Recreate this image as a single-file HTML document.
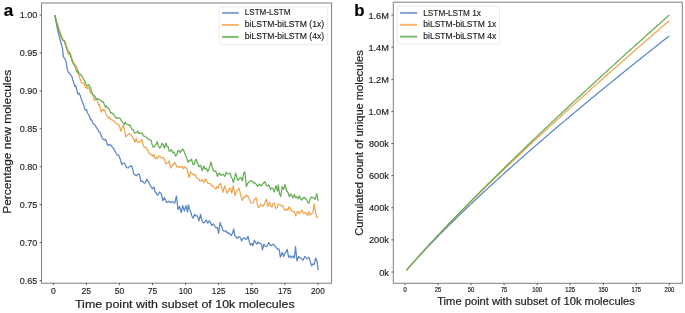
<!DOCTYPE html>
<html><head><meta charset="utf-8"><style>
html,body{margin:0;padding:0;background:#fff;width:685px;height:313px;overflow:hidden;}
svg{display:block;font-family:"Liberation Sans", sans-serif;filter:blur(0.55px);}
</style></head><body>
<svg width="685" height="313" viewBox="0 0 685 313" font-family="Liberation Sans, sans-serif">
<rect width="685" height="313" fill="#fff"/>
<g fill="none" stroke-width="1.25" stroke-linejoin="round">
<path d="M54.70,15.10 L57.20,28.00 L59.90,39.20 L61.30,44.00 L62.60,48.80 L63.30,56.80 L64.80,58.40 L66.10,62.00 L67.20,68.92 L68.30,72.60 L69.17,72.82 L70.03,73.74 L70.90,75.10 L71.85,76.48 L72.80,80.00 L73.80,82.70 L74.87,86.33 L75.93,85.93 L77.00,91.00 L78.07,94.21 L79.13,93.17 L80.20,95.40 L81.50,99.57 L82.80,103.10 L83.73,105.18 L84.67,109.23 L85.60,110.10 L86.57,109.64 L87.55,112.98 L88.53,114.52 L89.50,116.50 L90.57,119.77 L91.63,119.67 L92.70,122.90 L93.97,124.33 L95.25,125.22 L96.53,127.74 L97.80,129.30 L98.87,131.78 L99.93,132.00 L101.00,135.00 L102.07,137.84 L103.13,139.30 L104.20,140.10 L105.60,139.30 L106.47,141.90 L107.33,144.40 L108.20,145.60 L109.40,144.52 L110.60,144.80 L111.80,146.28 L113.00,148.00 L114.07,148.90 L115.13,151.40 L116.20,153.50 L117.27,155.10 L118.33,154.94 L119.40,156.70 L120.60,160.30 L121.80,164.70 L123.00,163.21 L124.20,163.10 L125.35,164.45 L126.50,167.50 L128.20,168.00 L129.27,166.53 L130.33,166.39 L131.40,165.60 L132.60,168.83 L133.80,174.30 L134.92,174.53 L136.04,175.96 L137.16,175.04 L138.28,174.11 L139.40,174.30 L141.00,181.50 L142.07,181.15 L143.13,181.82 L144.20,183.10 L145.40,182.79 L146.60,179.10 L147.73,181.05 L148.87,182.26 L150.00,184.80 L151.20,186.99 L152.40,188.80 L154.00,187.20 L155.07,191.97 L156.13,192.65 L157.20,195.20 L158.40,194.22 L159.60,192.00 L161.20,193.60 L162.80,200.80 L164.40,197.60 L165.60,200.30 L166.80,202.40 L167.80,202.05 L168.80,201.26 L169.80,202.05 L170.80,202.40 L172.40,201.60 L173.60,202.19 L174.80,203.20 L176.40,196.00 L178.00,209.60 L179.60,206.40 L181.20,212.70 L182.70,205.60 L184.30,211.20 L185.90,205.60 L187.50,212.00 L188.30,204.80 L189.50,208.99 L190.70,212.00 L191.90,215.99 L193.10,218.30 L194.70,214.30 L195.60,215.80 L196.50,215.72 L197.40,216.00 L199.00,220.80 L200.60,214.40 L202.20,221.60 L203.40,222.89 L204.60,222.40 L206.20,220.00 L207.80,223.20 L209.40,220.80 L210.60,222.45 L211.80,225.60 L213.40,224.00 L215.00,226.40 L216.20,228.05 L217.40,227.20 L218.60,233.50 L220.20,222.40 L221.13,225.58 L222.07,227.44 L223.00,230.40 L224.07,231.16 L225.13,230.86 L226.20,231.20 L227.35,233.08 L228.50,232.70 L230.10,234.30 L231.30,235.42 L232.50,233.50 L233.70,228.80 L234.70,234.94 L235.70,236.70 L237.30,238.30 L238.90,236.70 L239.80,236.74 L240.70,238.12 L241.60,241.00 L242.80,238.90 L244.00,237.80 L245.20,238.76 L246.40,239.40 L248.00,236.20 L249.20,241.48 L250.40,245.00 L252.00,243.40 L252.80,245.80 L254.40,240.20 L255.60,242.52 L256.80,244.20 L258.00,241.78 L259.20,243.40 L260.40,243.49 L261.60,244.20 L262.40,249.80 L264.00,244.20 L265.20,246.23 L266.40,246.60 L267.60,244.83 L268.80,242.60 L269.95,244.96 L271.10,245.80 L272.30,244.78 L273.50,244.20 L274.70,245.60 L275.90,247.40 L277.50,249.00 L279.10,249.00 L280.30,257.20 L281.25,254.94 L282.20,252.30 L283.60,256.60 L285.00,253.00 L286.10,251.61 L287.20,249.40 L288.60,257.30 L290.10,255.80 L291.50,258.00 L292.90,255.80 L294.40,258.00 L295.50,246.50 L297.00,260.90 L298.70,256.60 L299.75,257.50 L300.80,258.00 L301.90,259.22 L303.00,260.20 L304.70,256.60 L305.65,256.98 L306.60,258.70 L307.70,258.38 L308.80,257.30 L310.20,260.90 L311.60,265.90 L313.10,263.80 L314.20,264.50 L315.70,258.00 L317.10,261.60 L318.10,270.20" stroke="#5b86c6" />
<path d="M54.90,15.10 L59.20,29.60 L61.60,36.00 L63.20,40.00 L64.80,40.80 L66.40,45.60 L68.00,50.40 L69.20,51.58 L70.40,53.60 L72.00,58.40 L73.30,62.00 L74.40,63.74 L75.50,65.60 L76.80,66.96 L78.10,72.60 L78.90,75.00 L80.40,80.00 L81.60,82.99 L82.80,82.70 L84.05,83.46 L85.30,87.80 L86.28,87.11 L87.25,88.60 L88.22,87.00 L89.20,88.40 L90.40,92.90 L91.70,93.09 L93.00,95.40 L94.30,100.60 L95.55,99.04 L96.80,99.30 L97.67,101.55 L98.53,104.99 L99.40,104.40 L100.35,108.29 L101.30,112.10 L102.17,109.92 L103.03,110.51 L103.90,108.90 L105.00,111.15 L106.10,114.60 L107.22,115.71 L108.35,118.03 L109.47,117.23 L110.60,119.10 L111.88,120.06 L113.15,120.12 L114.42,121.79 L115.70,122.90 L116.97,124.22 L118.23,124.04 L119.50,126.10 L120.80,131.20 L122.05,127.96 L123.30,125.40 L124.55,130.86 L125.80,136.80 L127.00,135.56 L128.20,134.41 L129.40,133.58 L130.60,134.40 L131.67,135.85 L132.73,137.33 L133.80,139.20 L134.98,142.23 L136.15,138.37 L137.32,141.71 L138.50,142.40 L139.57,141.70 L140.63,141.63 L141.70,139.20 L143.30,145.60 L144.50,147.30 L145.70,147.16 L146.90,149.20 L148.10,150.40 L149.05,152.94 L150.00,154.40 L151.28,154.73 L152.56,156.45 L153.84,154.45 L155.12,158.69 L156.40,157.60 L157.47,158.53 L158.53,156.20 L159.60,156.00 L160.80,157.41 L162.00,157.65 L163.20,157.57 L164.40,159.20 L166.00,164.00 L167.07,163.02 L168.13,162.87 L169.20,160.80 L170.80,168.00 L171.80,166.22 L172.80,164.82 L173.80,163.73 L174.80,162.40 L175.87,164.43 L176.93,166.88 L178.00,167.20 L179.00,166.37 L180.00,167.31 L181.00,166.82 L182.00,166.40 L183.50,168.80 L184.57,166.67 L185.63,167.85 L186.70,168.00 L187.90,172.62 L189.10,177.50 L190.70,172.00 L191.77,172.99 L192.83,174.39 L193.90,175.10 L194.97,174.13 L196.03,177.28 L197.10,178.30 L198.00,178.59 L198.90,178.79 L199.80,181.20 L201.00,180.92 L202.20,179.60 L203.80,182.70 L205.40,178.80 L207.00,182.00 L208.20,183.49 L209.40,183.50 L210.47,183.65 L211.53,185.94 L212.60,185.90 L213.67,186.59 L214.73,188.10 L215.80,189.10 L216.87,186.67 L217.93,188.02 L219.00,185.10 L220.20,183.24 L221.40,186.70 L223.00,192.30 L224.60,185.90 L225.80,189.41 L227.00,193.10 L228.15,191.40 L229.30,188.30 L230.50,188.67 L231.70,193.10 L233.30,185.90 L234.90,195.50 L236.50,191.50 L237.70,189.71 L238.90,188.30 L240.07,192.29 L241.23,197.26 L242.40,200.50 L244.00,196.70 L245.20,197.15 L246.40,195.10 L247.47,196.30 L248.53,196.92 L249.60,199.90 L250.80,202.87 L252.00,203.10 L253.00,202.92 L254.00,199.84 L255.00,199.25 L256.00,197.50 L257.20,203.08 L258.40,207.90 L259.60,206.47 L260.80,203.90 L262.00,205.30 L263.20,206.30 L264.80,203.10 L266.40,199.10 L268.00,206.30 L269.60,202.30 L270.75,206.11 L271.90,207.10 L273.10,203.36 L274.30,203.10 L275.90,208.70 L277.10,207.34 L278.30,203.90 L279.33,204.95 L280.37,205.02 L281.40,205.90 L282.90,205.90 L284.30,209.50 L285.40,210.32 L286.50,208.80 L287.90,210.20 L289.00,206.81 L290.10,208.10 L291.15,210.66 L292.20,210.90 L293.30,211.69 L294.40,211.70 L295.80,216.00 L297.30,211.70 L298.35,211.62 L299.40,213.80 L300.50,212.43 L301.60,210.20 L302.65,211.70 L303.70,213.80 L305.20,212.40 L306.60,213.80 L307.70,215.34 L308.80,211.70 L309.85,214.94 L310.90,214.50 L312.00,213.54 L313.10,211.70 L314.20,203.80 L315.20,211.00 L316.70,217.40 L318.10,216.70" stroke="#eea54f" />
<path d="M54.70,15.10 L58.40,29.60 L60.80,36.00 L62.40,40.00 L64.00,40.80 L65.60,45.60 L67.20,50.40 L68.40,53.79 L69.60,53.60 L71.20,58.40 L72.50,62.00 L73.60,64.24 L74.70,65.60 L76.00,69.20 L77.30,72.60 L78.25,71.39 L79.20,73.90 L80.05,74.17 L80.90,75.00 L81.97,76.35 L83.03,78.32 L84.10,80.10 L85.35,82.37 L86.60,85.90 L87.47,85.62 L88.33,84.96 L89.20,85.20 L90.45,87.44 L91.70,92.30 L92.77,94.45 L93.83,95.71 L94.90,96.10 L96.20,99.06 L97.50,98.60 L98.60,99.45 L99.70,99.80 L100.80,100.45 L101.90,101.80 L103.20,101.85 L104.50,105.00 L105.47,107.05 L106.43,106.03 L107.40,108.20 L108.50,108.14 L109.60,110.24 L110.70,113.06 L111.80,112.70 L112.78,114.21 L113.75,114.23 L114.72,115.81 L115.70,117.80 L116.77,118.43 L117.83,117.64 L118.90,117.80 L119.97,118.30 L121.03,120.10 L122.10,121.60 L123.22,122.95 L124.35,124.78 L125.47,122.16 L126.60,124.00 L127.72,124.49 L128.84,125.44 L129.96,124.94 L131.08,127.56 L132.20,129.60 L133.27,129.64 L134.33,132.86 L135.40,132.80 L136.57,132.67 L137.75,131.18 L138.93,133.45 L140.10,132.80 L141.17,133.51 L142.23,133.19 L143.30,136.00 L144.50,136.20 L145.70,137.01 L146.90,137.53 L148.10,139.20 L149.05,139.63 L150.00,140.00 L151.07,140.15 L152.13,144.53 L153.20,147.20 L154.20,146.81 L155.20,145.25 L156.20,144.11 L157.20,141.60 L158.40,145.92 L159.60,148.00 L160.80,147.09 L162.00,143.20 L163.20,144.48 L164.40,148.00 L166.00,143.20 L167.07,146.71 L168.13,146.67 L169.20,151.20 L170.40,150.80 L171.60,149.69 L172.80,152.85 L174.00,152.00 L175.60,156.00 L176.80,154.53 L178.00,150.40 L179.03,150.47 L180.07,152.71 L181.10,151.20 L182.70,148.80 L183.77,150.53 L184.83,153.75 L185.90,156.00 L187.10,159.35 L188.30,162.40 L189.37,160.27 L190.43,160.70 L191.50,159.20 L192.70,163.94 L193.90,164.80 L195.10,160.98 L196.30,159.20 L197.20,162.63 L198.10,164.11 L199.00,166.80 L200.60,165.20 L202.20,170.80 L203.80,166.00 L205.00,168.97 L206.20,168.40 L207.80,171.60 L208.87,168.88 L209.93,165.88 L211.00,162.00 L212.20,167.04 L213.40,170.80 L214.60,171.05 L215.80,170.80 L217.40,176.40 L218.60,173.40 L219.80,173.20 L221.00,175.39 L222.20,174.80 L223.40,174.23 L224.60,176.40 L226.20,172.40 L227.35,173.44 L228.50,174.00 L230.10,173.20 L231.17,176.98 L232.23,178.70 L233.30,182.70 L234.50,178.10 L235.70,173.20 L236.90,177.97 L238.10,180.40 L239.15,178.93 L240.20,177.50 L241.30,178.26 L242.40,180.80 L243.60,173.48 L244.80,172.00 L246.40,186.40 L247.60,183.43 L248.80,182.40 L250.00,181.01 L251.20,180.80 L252.40,181.48 L253.60,183.20 L254.80,182.64 L256.00,184.00 L257.60,186.40 L259.20,184.00 L260.40,185.18 L261.60,185.60 L262.67,183.69 L263.73,182.82 L264.80,181.60 L266.40,185.60 L267.60,185.88 L268.80,184.80 L270.40,189.60 L271.55,187.94 L272.70,188.00 L274.30,192.00 L275.90,185.60 L277.50,191.20 L278.30,184.80 L279.60,194.00 L280.70,196.60 L282.20,186.50 L283.60,189.40 L285.00,184.30 L286.50,190.80 L287.90,192.30 L289.30,196.60 L290.80,193.70 L291.85,195.55 L292.90,198.00 L294.40,194.40 L295.45,197.66 L296.50,196.60 L298.00,198.70 L299.40,195.80 L300.50,198.87 L301.60,200.20 L302.53,197.94 L303.47,198.19 L304.40,197.30 L305.50,198.91 L306.60,199.40 L307.70,202.43 L308.80,203.00 L309.85,200.30 L310.90,197.30 L312.00,197.12 L313.10,198.00 L314.15,197.97 L315.20,199.40 L316.70,193.70 L318.10,200.90" stroke="#66ad55" />
</g>
<rect x="41.5" y="3.0" width="290.1" height="280.2" fill="none" stroke="#858585" stroke-width="1.05"/>
<line x1="39.6" y1="15.00" x2="41.5" y2="15.00" stroke="#5a5a5a" stroke-width="1"/>
<text x="37.40" y="18.45" font-size="9.1" text-anchor="end" textLength="17.60" lengthAdjust="spacingAndGlyphs" stroke="#1e1e1e" stroke-width="0.15" fill="#1e1e1e" >1.00</text>
<line x1="39.6" y1="52.93" x2="41.5" y2="52.93" stroke="#5a5a5a" stroke-width="1"/>
<text x="37.40" y="56.38" font-size="9.1" text-anchor="end" textLength="17.60" lengthAdjust="spacingAndGlyphs" stroke="#1e1e1e" stroke-width="0.15" fill="#1e1e1e" >0.95</text>
<line x1="39.6" y1="90.86" x2="41.5" y2="90.86" stroke="#5a5a5a" stroke-width="1"/>
<text x="37.40" y="94.31" font-size="9.1" text-anchor="end" textLength="17.60" lengthAdjust="spacingAndGlyphs" stroke="#1e1e1e" stroke-width="0.15" fill="#1e1e1e" >0.90</text>
<line x1="39.6" y1="128.79" x2="41.5" y2="128.79" stroke="#5a5a5a" stroke-width="1"/>
<text x="37.40" y="132.24" font-size="9.1" text-anchor="end" textLength="17.60" lengthAdjust="spacingAndGlyphs" stroke="#1e1e1e" stroke-width="0.15" fill="#1e1e1e" >0.85</text>
<line x1="39.6" y1="166.71" x2="41.5" y2="166.71" stroke="#5a5a5a" stroke-width="1"/>
<text x="37.40" y="170.16" font-size="9.1" text-anchor="end" textLength="17.60" lengthAdjust="spacingAndGlyphs" stroke="#1e1e1e" stroke-width="0.15" fill="#1e1e1e" >0.80</text>
<line x1="39.6" y1="204.64" x2="41.5" y2="204.64" stroke="#5a5a5a" stroke-width="1"/>
<text x="37.40" y="208.09" font-size="9.1" text-anchor="end" textLength="17.60" lengthAdjust="spacingAndGlyphs" stroke="#1e1e1e" stroke-width="0.15" fill="#1e1e1e" >0.75</text>
<line x1="39.6" y1="242.57" x2="41.5" y2="242.57" stroke="#5a5a5a" stroke-width="1"/>
<text x="37.40" y="246.02" font-size="9.1" text-anchor="end" textLength="17.60" lengthAdjust="spacingAndGlyphs" stroke="#1e1e1e" stroke-width="0.15" fill="#1e1e1e" >0.70</text>
<line x1="39.6" y1="280.50" x2="41.5" y2="280.50" stroke="#5a5a5a" stroke-width="1"/>
<text x="37.40" y="283.95" font-size="9.1" text-anchor="end" textLength="17.60" lengthAdjust="spacingAndGlyphs" stroke="#1e1e1e" stroke-width="0.15" fill="#1e1e1e" >0.65</text>
<line x1="53.30" y1="283.2" x2="53.30" y2="285.1" stroke="#5a5a5a" stroke-width="1"/>
<text x="53.30" y="294.00" font-size="8.8" text-anchor="middle" textLength="4.78" lengthAdjust="spacingAndGlyphs" stroke="#1e1e1e" stroke-width="0.15" fill="#1e1e1e" >0</text>
<line x1="86.38" y1="283.2" x2="86.38" y2="285.1" stroke="#5a5a5a" stroke-width="1"/>
<text x="86.38" y="294.00" font-size="8.8" text-anchor="middle" textLength="9.56" lengthAdjust="spacingAndGlyphs" stroke="#1e1e1e" stroke-width="0.15" fill="#1e1e1e" >25</text>
<line x1="119.45" y1="283.2" x2="119.45" y2="285.1" stroke="#5a5a5a" stroke-width="1"/>
<text x="119.45" y="294.00" font-size="8.8" text-anchor="middle" textLength="9.56" lengthAdjust="spacingAndGlyphs" stroke="#1e1e1e" stroke-width="0.15" fill="#1e1e1e" >50</text>
<line x1="152.52" y1="283.2" x2="152.52" y2="285.1" stroke="#5a5a5a" stroke-width="1"/>
<text x="152.52" y="294.00" font-size="8.8" text-anchor="middle" textLength="9.56" lengthAdjust="spacingAndGlyphs" stroke="#1e1e1e" stroke-width="0.15" fill="#1e1e1e" >75</text>
<line x1="185.60" y1="283.2" x2="185.60" y2="285.1" stroke="#5a5a5a" stroke-width="1"/>
<text x="185.60" y="294.00" font-size="8.8" text-anchor="middle" textLength="13.63" lengthAdjust="spacingAndGlyphs" stroke="#1e1e1e" stroke-width="0.15" fill="#1e1e1e" >100</text>
<line x1="218.67" y1="283.2" x2="218.67" y2="285.1" stroke="#5a5a5a" stroke-width="1"/>
<text x="218.67" y="294.00" font-size="8.8" text-anchor="middle" textLength="13.63" lengthAdjust="spacingAndGlyphs" stroke="#1e1e1e" stroke-width="0.15" fill="#1e1e1e" >125</text>
<line x1="251.75" y1="283.2" x2="251.75" y2="285.1" stroke="#5a5a5a" stroke-width="1"/>
<text x="251.75" y="294.00" font-size="8.8" text-anchor="middle" textLength="13.63" lengthAdjust="spacingAndGlyphs" stroke="#1e1e1e" stroke-width="0.15" fill="#1e1e1e" >150</text>
<line x1="284.82" y1="283.2" x2="284.82" y2="285.1" stroke="#5a5a5a" stroke-width="1"/>
<text x="284.82" y="294.00" font-size="8.8" text-anchor="middle" textLength="13.63" lengthAdjust="spacingAndGlyphs" stroke="#1e1e1e" stroke-width="0.15" fill="#1e1e1e" >175</text>
<line x1="317.90" y1="283.2" x2="317.90" y2="285.1" stroke="#5a5a5a" stroke-width="1"/>
<text x="317.90" y="294.00" font-size="8.8" text-anchor="middle" textLength="13.63" lengthAdjust="spacingAndGlyphs" stroke="#1e1e1e" stroke-width="0.15" fill="#1e1e1e" >200</text>
<text x="75.00" y="308.00" font-size="11.5" textLength="219.60" lengthAdjust="spacingAndGlyphs" stroke="#1e1e1e" stroke-width="0.2" fill="#1e1e1e" >Time point with subset of 10k molecules</text>
<text x="0.00" y="0.00" font-size="11.8" textLength="144.00" lengthAdjust="spacingAndGlyphs" stroke="#1e1e1e" stroke-width="0.2" fill="#1e1e1e" transform="translate(10.6,213.8) rotate(-90)">Percentage new molecules</text>
<text x="3.85" y="16.35" font-size="17" font-weight="bold" stroke="#000" stroke-width="0.2" fill="#000" >a</text>
<rect x="219.1" y="6.8" width="108.3" height="37.8" rx="1.5" fill="#fff" stroke="#e6e6e6" stroke-width="0.8"/>
<line x1="221.9" y1="12.90" x2="238.7" y2="12.90" stroke="#7d9fd8" stroke-width="1.9"/>
<text x="244.80" y="15.45" font-size="8.55" textLength="45.70" lengthAdjust="spacingAndGlyphs" stroke="#1e1e1e" stroke-width="0.15" fill="#1e1e1e" >LSTM-LSTM</text>
<line x1="221.9" y1="24.90" x2="238.7" y2="24.90" stroke="#f5b468" stroke-width="1.9"/>
<text x="244.80" y="27.45" font-size="8.55" textLength="79.40" lengthAdjust="spacingAndGlyphs" stroke="#1e1e1e" stroke-width="0.15" fill="#1e1e1e" >biLSTM-biLSTM (1x)</text>
<line x1="221.9" y1="36.90" x2="238.7" y2="36.90" stroke="#78bc66" stroke-width="1.9"/>
<text x="244.80" y="39.45" font-size="8.55" textLength="79.40" lengthAdjust="spacingAndGlyphs" stroke="#1e1e1e" stroke-width="0.15" fill="#1e1e1e" >biLSTM-biLSTM (4x)</text>
<g fill="none" stroke-width="1.25" stroke-linejoin="round">
<path d="M406.32,270.46 L407.64,268.93 L408.96,267.41 L410.29,265.91 L411.61,264.42 L412.93,262.93 L414.25,261.46 L415.57,260.01 L416.89,258.55 L418.21,257.11 L419.54,255.68 L420.86,254.26 L422.18,252.84 L423.50,251.42 L424.82,250.02 L426.14,248.61 L427.47,247.22 L428.79,245.83 L430.11,244.45 L431.43,243.07 L432.75,241.70 L434.07,240.33 L435.39,238.97 L436.72,237.62 L438.04,236.28 L439.36,234.93 L440.68,233.60 L442.00,232.27 L443.32,230.94 L444.64,229.62 L445.97,228.30 L447.29,226.98 L448.61,225.67 L449.93,224.36 L451.25,223.06 L452.57,221.76 L453.90,220.47 L455.22,219.18 L456.54,217.89 L457.86,216.60 L459.18,215.32 L460.50,214.05 L461.82,212.77 L463.15,211.49 L464.47,210.22 L465.79,208.95 L467.11,207.69 L468.43,206.43 L469.75,205.17 L471.07,203.92 L472.40,202.68 L473.72,201.44 L475.04,200.20 L476.36,198.96 L477.68,197.73 L479.00,196.49 L480.33,195.26 L481.65,194.03 L482.97,192.79 L484.29,191.57 L485.61,190.35 L486.93,189.13 L488.25,187.91 L489.58,186.69 L490.90,185.48 L492.22,184.27 L493.54,183.07 L494.86,181.87 L496.18,180.66 L497.50,179.46 L498.83,178.25 L500.15,177.05 L501.47,175.85 L502.79,174.66 L504.11,173.47 L505.43,172.28 L506.76,171.09 L508.08,169.91 L509.40,168.74 L510.72,167.56 L512.04,166.38 L513.36,165.20 L514.68,164.04 L516.01,162.87 L517.33,161.70 L518.65,160.54 L519.97,159.38 L521.29,158.22 L522.61,157.06 L523.93,155.89 L525.26,154.73 L526.58,153.57 L527.90,152.40 L529.22,151.25 L530.54,150.09 L531.86,148.95 L533.19,147.80 L534.51,146.65 L535.83,145.51 L537.15,144.36 L538.47,143.21 L539.79,142.05 L541.11,140.91 L542.44,139.76 L543.76,138.63 L545.08,137.50 L546.40,136.36 L547.72,135.23 L549.04,134.10 L550.37,132.97 L551.69,131.84 L553.01,130.71 L554.33,129.59 L555.65,128.47 L556.97,127.34 L558.29,126.22 L559.62,125.10 L560.94,123.98 L562.26,122.86 L563.58,121.75 L564.90,120.63 L566.22,119.52 L567.54,118.40 L568.87,117.29 L570.19,116.19 L571.51,115.08 L572.83,113.96 L574.15,112.86 L575.47,111.75 L576.79,110.65 L578.12,109.55 L579.44,108.45 L580.76,107.35 L582.08,106.25 L583.40,105.16 L584.72,104.05 L586.05,102.95 L587.37,101.86 L588.69,100.77 L590.01,99.68 L591.33,98.59 L592.65,97.51 L593.97,96.43 L595.30,95.34 L596.62,94.25 L597.94,93.16 L599.26,92.07 L600.58,90.99 L601.90,89.91 L603.22,88.84 L604.55,87.76 L605.87,86.68 L607.19,85.60 L608.51,84.52 L609.83,83.44 L611.15,82.37 L612.48,81.29 L613.80,80.22 L615.12,79.15 L616.44,78.08 L617.76,77.01 L619.08,75.93 L620.40,74.85 L621.73,73.78 L623.05,72.70 L624.37,71.63 L625.69,70.55 L627.01,69.48 L628.33,68.41 L629.65,67.35 L630.98,66.29 L632.30,65.24 L633.62,64.18 L634.94,63.12 L636.26,62.07 L637.58,61.01 L638.91,59.94 L640.23,58.89 L641.55,57.84 L642.87,56.79 L644.19,55.74 L645.51,54.69 L646.83,53.62 L648.16,52.57 L649.48,51.53 L650.80,50.48 L652.12,49.43 L653.44,48.38 L654.76,47.34 L656.08,46.29 L657.41,45.24 L658.73,44.19 L660.05,43.14 L661.37,42.10 L662.69,41.07 L664.01,40.03 L665.34,39.00 L666.66,37.95 L667.98,36.91 L669.30,35.88" stroke="#5b86c6" />
<path d="M406.32,270.45 L407.64,268.91 L408.96,267.38 L410.29,265.86 L411.61,264.35 L412.93,262.84 L414.25,261.34 L415.57,259.85 L416.89,258.36 L418.21,256.87 L419.54,255.40 L420.86,253.93 L422.18,252.46 L423.50,251.00 L424.82,249.55 L426.14,248.10 L427.47,246.66 L428.79,245.23 L430.11,243.80 L431.43,242.38 L432.75,240.97 L434.07,239.56 L435.39,238.15 L436.72,236.75 L438.04,235.35 L439.36,233.96 L440.68,232.56 L442.00,231.17 L443.32,229.79 L444.64,228.40 L445.97,227.03 L447.29,225.66 L448.61,224.28 L449.93,222.91 L451.25,221.55 L452.57,220.20 L453.90,218.85 L455.22,217.49 L456.54,216.14 L457.86,214.80 L459.18,213.46 L460.50,212.12 L461.82,210.79 L463.15,209.45 L464.47,208.12 L465.79,206.79 L467.11,205.47 L468.43,204.14 L469.75,202.82 L471.07,201.50 L472.40,200.19 L473.72,198.87 L475.04,197.55 L476.36,196.24 L477.68,194.95 L479.00,193.65 L480.33,192.34 L481.65,191.04 L482.97,189.74 L484.29,188.44 L485.61,187.15 L486.93,185.86 L488.25,184.57 L489.58,183.28 L490.90,181.99 L492.22,180.70 L493.54,179.41 L494.86,178.13 L496.18,176.85 L497.50,175.58 L498.83,174.30 L500.15,173.04 L501.47,171.77 L502.79,170.51 L504.11,169.25 L505.43,167.99 L506.76,166.74 L508.08,165.48 L509.40,164.22 L510.72,162.96 L512.04,161.70 L513.36,160.45 L514.68,159.19 L516.01,157.94 L517.33,156.70 L518.65,155.45 L519.97,154.20 L521.29,152.96 L522.61,151.72 L523.93,150.48 L525.26,149.24 L526.58,148.00 L527.90,146.75 L529.22,145.52 L530.54,144.28 L531.86,143.04 L533.19,141.81 L534.51,140.57 L535.83,139.34 L537.15,138.10 L538.47,136.87 L539.79,135.65 L541.11,134.43 L542.44,133.20 L543.76,131.98 L545.08,130.76 L546.40,129.54 L547.72,128.32 L549.04,127.11 L550.37,125.90 L551.69,124.69 L553.01,123.48 L554.33,122.27 L555.65,121.07 L556.97,119.85 L558.29,118.65 L559.62,117.44 L560.94,116.24 L562.26,115.04 L563.58,113.84 L564.90,112.64 L566.22,111.45 L567.54,110.26 L568.87,109.06 L570.19,107.86 L571.51,106.66 L572.83,105.47 L574.15,104.28 L575.47,103.08 L576.79,101.89 L578.12,100.70 L579.44,99.52 L580.76,98.32 L582.08,97.14 L583.40,95.95 L584.72,94.75 L586.05,93.57 L587.37,92.39 L588.69,91.20 L590.01,90.01 L591.33,88.82 L592.65,87.64 L593.97,86.47 L595.30,85.30 L596.62,84.12 L597.94,82.94 L599.26,81.76 L600.58,80.59 L601.90,79.43 L603.22,78.26 L604.55,77.10 L605.87,75.93 L607.19,74.75 L608.51,73.59 L609.83,72.43 L611.15,71.27 L612.48,70.11 L613.80,68.95 L615.12,67.80 L616.44,66.63 L617.76,65.46 L619.08,64.30 L620.40,63.14 L621.73,61.98 L623.05,60.82 L624.37,59.66 L625.69,58.50 L627.01,57.35 L628.33,56.19 L629.65,55.03 L630.98,53.87 L632.30,52.71 L633.62,51.55 L634.94,50.40 L636.26,49.25 L637.58,48.10 L638.91,46.95 L640.23,45.80 L641.55,44.64 L642.87,43.49 L644.19,42.35 L645.51,41.20 L646.83,40.06 L648.16,38.92 L649.48,37.78 L650.80,36.63 L652.12,35.49 L653.44,34.34 L654.76,33.20 L656.08,32.06 L657.41,30.91 L658.73,29.77 L660.05,28.62 L661.37,27.48 L662.69,26.34 L664.01,25.20 L665.34,24.04 L666.66,22.89 L667.98,21.76 L669.30,20.62" stroke="#eea54f" />
<path d="M406.32,270.45 L407.64,268.90 L408.96,267.37 L410.29,265.85 L411.61,264.34 L412.93,262.83 L414.25,261.33 L415.57,259.83 L416.89,258.33 L418.21,256.85 L419.54,255.37 L420.86,253.90 L422.18,252.43 L423.50,250.97 L424.82,249.51 L426.14,248.06 L427.47,246.62 L428.79,245.18 L430.11,243.75 L431.43,242.32 L432.75,240.89 L434.07,239.46 L435.39,238.04 L436.72,236.63 L438.04,235.22 L439.36,233.81 L440.68,232.40 L442.00,231.00 L443.32,229.60 L444.64,228.21 L445.97,226.82 L447.29,225.44 L448.61,224.05 L449.93,222.67 L451.25,221.30 L452.57,219.92 L453.90,218.54 L455.22,217.17 L456.54,215.81 L457.86,214.44 L459.18,213.08 L460.50,211.72 L461.82,210.36 L463.15,209.01 L464.47,207.66 L465.79,206.31 L467.11,204.97 L468.43,203.63 L469.75,202.28 L471.07,200.94 L472.40,199.61 L473.72,198.27 L475.04,196.94 L476.36,195.61 L477.68,194.28 L479.00,192.95 L480.33,191.62 L481.65,190.30 L482.97,188.98 L484.29,187.66 L485.61,186.35 L486.93,185.04 L488.25,183.72 L489.58,182.41 L490.90,181.10 L492.22,179.79 L493.54,178.48 L494.86,177.18 L496.18,175.87 L497.50,174.57 L498.83,173.27 L500.15,171.97 L501.47,170.68 L502.79,169.38 L504.11,168.10 L505.43,166.81 L506.76,165.53 L508.08,164.23 L509.40,162.94 L510.72,161.66 L512.04,160.38 L513.36,159.09 L514.68,157.80 L516.01,156.52 L517.33,155.23 L518.65,153.95 L519.97,152.67 L521.29,151.39 L522.61,150.12 L523.93,148.85 L525.26,147.58 L526.58,146.31 L527.90,145.04 L529.22,143.77 L530.54,142.49 L531.86,141.22 L533.19,139.94 L534.51,138.66 L535.83,137.39 L537.15,136.13 L538.47,134.87 L539.79,133.62 L541.11,132.36 L542.44,131.10 L543.76,129.85 L545.08,128.60 L546.40,127.35 L547.72,126.09 L549.04,124.84 L550.37,123.60 L551.69,122.36 L553.01,121.12 L554.33,119.88 L555.65,118.64 L556.97,117.40 L558.29,116.16 L559.62,114.93 L560.94,113.68 L562.26,112.43 L563.58,111.19 L564.90,109.95 L566.22,108.72 L567.54,107.49 L568.87,106.27 L570.19,105.04 L571.51,103.81 L572.83,102.58 L574.15,101.36 L575.47,100.13 L576.79,98.91 L578.12,97.68 L579.44,96.45 L580.76,95.22 L582.08,94.00 L583.40,92.78 L584.72,91.57 L586.05,90.35 L587.37,89.12 L588.69,87.90 L590.01,86.68 L591.33,85.47 L592.65,84.25 L593.97,83.03 L595.30,81.81 L596.62,80.58 L597.94,79.38 L599.26,78.18 L600.58,76.96 L601.90,75.75 L603.22,74.54 L604.55,73.33 L605.87,72.12 L607.19,70.92 L608.51,69.71 L609.83,68.51 L611.15,67.30 L612.48,66.10 L613.80,64.89 L615.12,63.68 L616.44,62.47 L617.76,61.27 L619.08,60.06 L620.40,58.86 L621.73,57.66 L623.05,56.46 L624.37,55.27 L625.69,54.08 L627.01,52.87 L628.33,51.68 L629.65,50.47 L630.98,49.29 L632.30,48.10 L633.62,46.90 L634.94,45.71 L636.26,44.50 L637.58,43.30 L638.91,42.11 L640.23,40.93 L641.55,39.74 L642.87,38.56 L644.19,37.38 L645.51,36.20 L646.83,35.01 L648.16,33.83 L649.48,32.66 L650.80,31.47 L652.12,30.30 L653.44,29.12 L654.76,27.94 L656.08,26.76 L657.41,25.59 L658.73,24.41 L660.05,23.25 L661.37,22.07 L662.69,20.89 L664.01,19.71 L665.34,18.54 L666.66,17.36 L667.98,16.17 L669.30,15.00" stroke="#66ad55" />
</g>
<rect x="393.3" y="2.2" width="289.0" height="281.1" fill="none" stroke="#858585" stroke-width="1.05"/>
<line x1="391.4" y1="272.00" x2="393.3" y2="272.00" stroke="#5a5a5a" stroke-width="1"/>
<text x="388.95" y="275.55" font-size="9.1" text-anchor="end" textLength="9.76" lengthAdjust="spacingAndGlyphs" stroke="#1e1e1e" stroke-width="0.15" fill="#1e1e1e" >0k</text>
<line x1="391.4" y1="239.88" x2="393.3" y2="239.88" stroke="#5a5a5a" stroke-width="1"/>
<text x="388.95" y="243.43" font-size="9.1" text-anchor="end" textLength="20.05" lengthAdjust="spacingAndGlyphs" stroke="#1e1e1e" stroke-width="0.15" fill="#1e1e1e" >200k</text>
<line x1="391.4" y1="207.75" x2="393.3" y2="207.75" stroke="#5a5a5a" stroke-width="1"/>
<text x="388.95" y="211.30" font-size="9.1" text-anchor="end" textLength="20.05" lengthAdjust="spacingAndGlyphs" stroke="#1e1e1e" stroke-width="0.15" fill="#1e1e1e" >400k</text>
<line x1="391.4" y1="175.62" x2="393.3" y2="175.62" stroke="#5a5a5a" stroke-width="1"/>
<text x="388.95" y="179.18" font-size="9.1" text-anchor="end" textLength="20.05" lengthAdjust="spacingAndGlyphs" stroke="#1e1e1e" stroke-width="0.15" fill="#1e1e1e" >600k</text>
<line x1="391.4" y1="143.50" x2="393.3" y2="143.50" stroke="#5a5a5a" stroke-width="1"/>
<text x="388.95" y="147.05" font-size="9.1" text-anchor="end" textLength="20.05" lengthAdjust="spacingAndGlyphs" stroke="#1e1e1e" stroke-width="0.15" fill="#1e1e1e" >800k</text>
<line x1="391.4" y1="111.38" x2="393.3" y2="111.38" stroke="#5a5a5a" stroke-width="1"/>
<text x="388.95" y="114.92" font-size="9.1" text-anchor="end" textLength="20.55" lengthAdjust="spacingAndGlyphs" stroke="#1e1e1e" stroke-width="0.15" fill="#1e1e1e" >1.0M</text>
<line x1="391.4" y1="79.25" x2="393.3" y2="79.25" stroke="#5a5a5a" stroke-width="1"/>
<text x="388.95" y="82.80" font-size="9.1" text-anchor="end" textLength="20.55" lengthAdjust="spacingAndGlyphs" stroke="#1e1e1e" stroke-width="0.15" fill="#1e1e1e" >1.2M</text>
<line x1="391.4" y1="47.12" x2="393.3" y2="47.12" stroke="#5a5a5a" stroke-width="1"/>
<text x="388.95" y="50.67" font-size="9.1" text-anchor="end" textLength="20.55" lengthAdjust="spacingAndGlyphs" stroke="#1e1e1e" stroke-width="0.15" fill="#1e1e1e" >1.4M</text>
<line x1="391.4" y1="15.00" x2="393.3" y2="15.00" stroke="#5a5a5a" stroke-width="1"/>
<text x="388.95" y="18.55" font-size="9.1" text-anchor="end" textLength="20.55" lengthAdjust="spacingAndGlyphs" stroke="#1e1e1e" stroke-width="0.15" fill="#1e1e1e" >1.6M</text>
<line x1="405.00" y1="283.3" x2="405.00" y2="285.2" stroke="#5a5a5a" stroke-width="1"/>
<text x="405.00" y="292.10" font-size="6.8" text-anchor="middle" textLength="3.22" lengthAdjust="spacingAndGlyphs" stroke="#1e1e1e" stroke-width="0.2" fill="#1e1e1e" >0</text>
<line x1="438.04" y1="283.3" x2="438.04" y2="285.2" stroke="#5a5a5a" stroke-width="1"/>
<text x="438.04" y="292.10" font-size="6.8" text-anchor="middle" textLength="6.45" lengthAdjust="spacingAndGlyphs" stroke="#1e1e1e" stroke-width="0.2" fill="#1e1e1e" >25</text>
<line x1="471.07" y1="283.3" x2="471.07" y2="285.2" stroke="#5a5a5a" stroke-width="1"/>
<text x="471.07" y="292.10" font-size="6.8" text-anchor="middle" textLength="6.45" lengthAdjust="spacingAndGlyphs" stroke="#1e1e1e" stroke-width="0.2" fill="#1e1e1e" >50</text>
<line x1="504.11" y1="283.3" x2="504.11" y2="285.2" stroke="#5a5a5a" stroke-width="1"/>
<text x="504.11" y="292.10" font-size="6.8" text-anchor="middle" textLength="6.45" lengthAdjust="spacingAndGlyphs" stroke="#1e1e1e" stroke-width="0.2" fill="#1e1e1e" >75</text>
<line x1="537.15" y1="283.3" x2="537.15" y2="285.2" stroke="#5a5a5a" stroke-width="1"/>
<text x="537.15" y="292.10" font-size="6.8" text-anchor="middle" textLength="9.67" lengthAdjust="spacingAndGlyphs" stroke="#1e1e1e" stroke-width="0.2" fill="#1e1e1e" >100</text>
<line x1="570.19" y1="283.3" x2="570.19" y2="285.2" stroke="#5a5a5a" stroke-width="1"/>
<text x="570.19" y="292.10" font-size="6.8" text-anchor="middle" textLength="9.67" lengthAdjust="spacingAndGlyphs" stroke="#1e1e1e" stroke-width="0.2" fill="#1e1e1e" >125</text>
<line x1="603.22" y1="283.3" x2="603.22" y2="285.2" stroke="#5a5a5a" stroke-width="1"/>
<text x="603.22" y="292.10" font-size="6.8" text-anchor="middle" textLength="9.67" lengthAdjust="spacingAndGlyphs" stroke="#1e1e1e" stroke-width="0.2" fill="#1e1e1e" >150</text>
<line x1="636.26" y1="283.3" x2="636.26" y2="285.2" stroke="#5a5a5a" stroke-width="1"/>
<text x="636.26" y="292.10" font-size="6.8" text-anchor="middle" textLength="9.67" lengthAdjust="spacingAndGlyphs" stroke="#1e1e1e" stroke-width="0.2" fill="#1e1e1e" >175</text>
<line x1="669.30" y1="283.3" x2="669.30" y2="285.2" stroke="#5a5a5a" stroke-width="1"/>
<text x="669.30" y="292.10" font-size="6.8" text-anchor="middle" textLength="9.67" lengthAdjust="spacingAndGlyphs" stroke="#1e1e1e" stroke-width="0.2" fill="#1e1e1e" >200</text>
<text x="437.20" y="305.20" font-size="10.6" textLength="197.70" lengthAdjust="spacingAndGlyphs" stroke="#1e1e1e" stroke-width="0.2" fill="#1e1e1e" >Time point with subset of 10k molecules</text>
<text x="0.00" y="0.00" font-size="10.5" textLength="185.40" lengthAdjust="spacingAndGlyphs" stroke="#1e1e1e" stroke-width="0.2" fill="#1e1e1e" transform="translate(362.9,235.7) rotate(-90)">Cumulated count of unique molecules</text>
<text x="354.15" y="15.60" font-size="16.8" font-weight="bold" stroke="#000" stroke-width="0.2" fill="#000" >b</text>
<rect x="397.4" y="6.1" width="102.1" height="37.9" rx="1.5" fill="#fff" stroke="#e6e6e6" stroke-width="0.8"/>
<line x1="400.1" y1="12.95" x2="417.2" y2="12.95" stroke="#7d9fd8" stroke-width="1.9"/>
<text x="423.30" y="15.50" font-size="8.45" textLength="57.60" lengthAdjust="spacingAndGlyphs" stroke="#1e1e1e" stroke-width="0.15" fill="#1e1e1e" >LSTM-LSTM 1x</text>
<line x1="400.1" y1="24.80" x2="417.2" y2="24.80" stroke="#f5b468" stroke-width="1.9"/>
<text x="423.30" y="27.35" font-size="8.45" textLength="72.90" lengthAdjust="spacingAndGlyphs" stroke="#1e1e1e" stroke-width="0.15" fill="#1e1e1e" >biLSTM-biLSTM 1x</text>
<line x1="400.1" y1="36.65" x2="417.2" y2="36.65" stroke="#78bc66" stroke-width="1.9"/>
<text x="423.30" y="39.20" font-size="8.45" textLength="72.90" lengthAdjust="spacingAndGlyphs" stroke="#1e1e1e" stroke-width="0.15" fill="#1e1e1e" >biLSTM-biLSTM 4x</text>
</svg>
</body></html>
